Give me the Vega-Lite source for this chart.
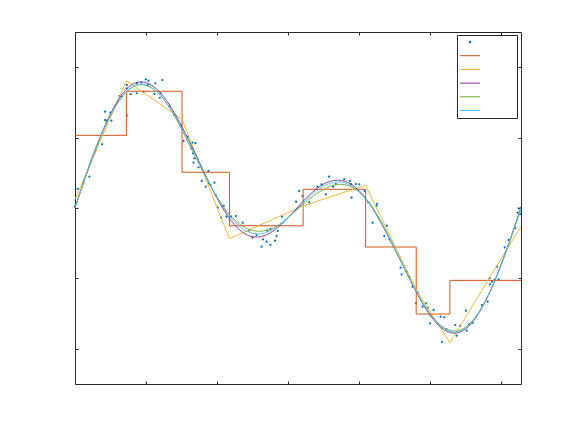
{
  "$schema": "https://vega.github.io/schema/vega-lite/v6.json",
  "width": 446,
  "height": 352,
  "autosize": "none",
  "padding": {"left": 75, "top": 32, "right": 55, "bottom": 48},
  "background": "white",
  "config": {
    "view": {"stroke": "#262626", "strokeWidth": 1},
    "axis": {"grid": false, "domain": false, "tickColor": "#262626", "tickSize": -3, "tickWidth": 1, "labelColor": "white", "labelFontSize": 10, "labelFont": "Liberation Sans", "labelPadding": 8, "title": null}
  },
  "datasets": {
    "pts": [
      {"x":0.000,"y":0.014},{"x":0.038,"y":0.135},{"x":0.118,"y":0.180},{"x":0.203,"y":0.222},{"x":0.290,"y":0.410},{"x":0.381,"y":0.452},
      {"x":0.423,"y":0.684},{"x":0.423,"y":0.625},{"x":0.443,"y":0.620},{"x":0.513,"y":0.620},{"x":0.499,"y":0.677},{"x":0.626,"y":0.795},
      {"x":0.658,"y":0.790},{"x":0.729,"y":0.874},{"x":0.729,"y":0.850},{"x":0.729,"y":0.656},{"x":0.785,"y":0.808},{"x":0.870,"y":0.886},
      {"x":0.870,"y":0.815},{"x":0.936,"y":0.890},{"x":0.964,"y":0.826},{"x":0.997,"y":0.914},{"x":1.035,"y":0.904},{"x":1.025,"y":0.874},
      {"x":1.133,"y":0.886},{"x":1.232,"y":0.909},{"x":1.119,"y":0.810},{"x":1.194,"y":0.783},{"x":1.204,"y":0.815},{"x":1.330,"y":0.720},
      {"x":1.400,"y":0.660},{"x":1.494,"y":0.589},{"x":1.528,"y":0.476},{"x":1.589,"y":0.506},{"x":1.655,"y":0.464},{"x":1.697,"y":0.460},
      {"x":1.641,"y":0.424},{"x":1.663,"y":0.388},{"x":1.683,"y":0.353},{"x":1.669,"y":0.322},{"x":1.740,"y":0.289},{"x":1.880,"y":0.263},
      {"x":1.786,"y":0.192},{"x":1.842,"y":0.151},{"x":1.889,"y":0.175},{"x":1.909,"y":0.163},{"x":1.965,"y":0.180},{"x":1.983,"y":0.092},
      {"x":2.012,"y":0.002},{"x":2.086,"y":0.014},{"x":2.058,"y":-0.069},{"x":2.096,"y":0.016},{"x":2.134,"y":-0.062},{"x":2.199,"y":-0.062},
      {"x":2.265,"y":-0.057},{"x":2.364,"y":-0.104},{"x":2.450,"y":-0.160},{"x":2.500,"y":-0.210},{"x":2.557,"y":-0.192},{"x":2.628,"y":-0.275},
      {"x":2.650,"y":-0.222},{"x":2.698,"y":-0.239},{"x":2.707,"y":-0.161},{"x":2.754,"y":-0.149},{"x":2.754,"y":-0.261},{"x":2.819,"y":-0.232},
      {"x":2.839,"y":-0.199},{"x":2.857,"y":-0.163},{"x":2.918,"y":-0.062},{"x":3.115,"y":0.045},{"x":3.158,"y":0.121},{"x":3.206,"y":0.085},
      {"x":3.299,"y":0.040},{"x":3.417,"y":0.151},{"x":3.473,"y":0.168},{"x":3.534,"y":0.097},{"x":3.580,"y":0.222},{"x":3.637,"y":0.151},
      {"x":3.675,"y":0.170},{"x":3.792,"y":0.204},{"x":3.872,"y":0.192},{"x":3.886,"y":0.170},{"x":3.896,"y":0.073},{"x":3.957,"y":0.170},
      {"x":4.003,"y":0.168},{"x":4.080,"y":0.120},{"x":4.130,"y":0.040},{"x":4.249,"y":0.016},{"x":4.192,"y":-0.104},{"x":4.253,"y":0.030},
      {"x":4.394,"y":-0.126},{"x":4.356,"y":-0.199},{"x":4.432,"y":-0.222},{"x":4.587,"y":-0.424},{"x":4.601,"y":-0.471},{"x":4.676,"y":-0.452},
      {"x":4.708,"y":-0.488},{"x":4.756,"y":-0.559},{"x":4.827,"y":-0.601},{"x":4.803,"y":-0.677},{"x":4.897,"y":-0.701},{"x":4.944,"y":-0.677},
      {"x":4.968,"y":-0.708},{"x":5.052,"y":-0.724},{"x":5.000,"y":-0.819},{"x":5.014,"y":-0.760},{"x":5.109,"y":-0.819},{"x":5.151,"y":-0.772},
      {"x":5.202,"y":-0.776},{"x":5.169,"y":-0.950},{"x":5.235,"y":-0.862},{"x":5.357,"y":-0.831},{"x":5.376,"y":-0.907},{"x":5.427,"y":-0.838},
      {"x":5.507,"y":-0.729},{"x":5.517,"y":-0.871},{"x":5.554,"y":-0.826},{"x":5.602,"y":-0.815},{"x":5.733,"y":-0.689},{"x":5.813,"y":-0.665},
      {"x":5.850,"y":-0.540},{"x":5.874,"y":-0.523},{"x":5.912,"y":-0.511},{"x":5.968,"y":-0.506},{"x":5.842,"y":-0.499},{"x":5.944,"y":-0.417},
      {"x":6.053,"y":-0.279},{"x":6.109,"y":-0.227},{"x":6.202,"y":-0.144},{"x":6.236,"y":-0.033},{"x":6.273,"y":-0.043},{"x":6.250,"y":-0.002}
    ],
    "step": [
      {"x":0,"y":0.516,"method":"binned"},{"x":0.7246,"y":0.829,"method":"binned"},{"x":1.508,"y":0.254,"method":"binned"},
      {"x":2.176,"y":-0.126,"method":"binned"},{"x":3.214,"y":0.133,"method":"binned"},{"x":4.094,"y":-0.277,"method":"binned"},
      {"x":4.807,"y":-0.753,"method":"binned"},{"x":5.282,"y":-0.514,"method":"binned"},{"x":6.2832,"y":-0.514,"method":"binned"}
    ],
    "lin": [
      {"x":0,"y":0.06,"method":"linear"},{"x":0.7246,"y":0.904,"method":"linear"},{"x":1.508,"y":0.63,"method":"linear"},
      {"x":2.176,"y":-0.218,"method":"linear"},{"x":3.214,"y":0.015,"method":"linear"},{"x":4.094,"y":0.161,"method":"linear"},
      {"x":4.807,"y":-0.58,"method":"linear"},{"x":5.282,"y":-0.957,"method":"linear"},{"x":6.2832,"y":-0.13,"method":"linear"}
    ],
    "curves": [
      {"x":0,"y":0,"method":"cubic"},{"x":0.2,"y":0.30,"method":"cubic"},{"x":0.4,"y":0.56,"method":"cubic"},{"x":0.6,"y":0.76,"method":"cubic"},
      {"x":0.8,"y":0.875,"method":"cubic"},{"x":1.0,"y":0.89,"method":"cubic"},{"x":1.2,"y":0.82,"method":"cubic"},{"x":1.4,"y":0.675,"method":"cubic"},
      {"x":1.6,"y":0.485,"method":"cubic"},{"x":1.8,"y":0.275,"method":"cubic"},{"x":2.0,"y":0.07,"method":"cubic"},{"x":2.2,"y":-0.09,"method":"cubic"},
      {"x":2.4,"y":-0.185,"method":"cubic"},{"x":2.6,"y":-0.205,"method":"cubic"},{"x":2.8,"y":-0.16,"method":"cubic"},{"x":3.0,"y":-0.07,"method":"cubic"},
      {"x":3.2,"y":0.04,"method":"cubic"},{"x":3.4,"y":0.135,"method":"cubic"},{"x":3.6,"y":0.19,"method":"cubic"},{"x":3.8,"y":0.19,"method":"cubic"},
      {"x":4.0,"y":0.125,"method":"cubic"},{"x":4.2,"y":-0.01,"method":"cubic"},{"x":4.4,"y":-0.19,"method":"cubic"},{"x":4.6,"y":-0.39,"method":"cubic"},
      {"x":4.8,"y":-0.59,"method":"cubic"},{"x":5.0,"y":-0.76,"method":"cubic"},{"x":5.2,"y":-0.865,"method":"cubic"},{"x":5.4,"y":-0.885,"method":"cubic"},
      {"x":5.6,"y":-0.81,"method":"cubic"},{"x":5.8,"y":-0.645,"method":"cubic"},{"x":6.0,"y":-0.405,"method":"cubic"},{"x":6.2,"y":-0.12,"method":"cubic"},
      {"x":6.2832,"y":0.01,"method":"cubic"},

      {"x":0,"y":0.01,"method":"quintic"},{"x":0.2,"y":0.29,"method":"quintic"},{"x":0.4,"y":0.55,"method":"quintic"},{"x":0.6,"y":0.745,"method":"quintic"},
      {"x":0.8,"y":0.855,"method":"quintic"},{"x":1.0,"y":0.87,"method":"quintic"},{"x":1.2,"y":0.80,"method":"quintic"},{"x":1.4,"y":0.655,"method":"quintic"},
      {"x":1.6,"y":0.46,"method":"quintic"},{"x":1.8,"y":0.26,"method":"quintic"},{"x":2.0,"y":0.08,"method":"quintic"},{"x":2.2,"y":-0.06,"method":"quintic"},
      {"x":2.4,"y":-0.14,"method":"quintic"},{"x":2.6,"y":-0.165,"method":"quintic"},{"x":2.8,"y":-0.14,"method":"quintic"},{"x":3.0,"y":-0.07,"method":"quintic"},
      {"x":3.2,"y":0.02,"method":"quintic"},{"x":3.4,"y":0.10,"method":"quintic"},{"x":3.6,"y":0.155,"method":"quintic"},{"x":3.8,"y":0.165,"method":"quintic"},
      {"x":4.0,"y":0.115,"method":"quintic"},{"x":4.2,"y":0.0,"method":"quintic"},{"x":4.4,"y":-0.18,"method":"quintic"},{"x":4.6,"y":-0.385,"method":"quintic"},
      {"x":4.8,"y":-0.585,"method":"quintic"},{"x":5.0,"y":-0.75,"method":"quintic"},{"x":5.2,"y":-0.85,"method":"quintic"},{"x":5.4,"y":-0.87,"method":"quintic"},
      {"x":5.6,"y":-0.80,"method":"quintic"},{"x":5.8,"y":-0.64,"method":"quintic"},{"x":6.0,"y":-0.41,"method":"quintic"},{"x":6.2,"y":-0.13,"method":"quintic"},
      {"x":6.2832,"y":-0.01,"method":"quintic"},

      {"x":0,"y":0,"method":"sine"},{"x":0.2,"y":0.294,"method":"sine"},{"x":0.4,"y":0.553,"method":"sine"},{"x":0.6,"y":0.748,"method":"sine"},
      {"x":0.8,"y":0.858,"method":"sine"},{"x":1.0,"y":0.875,"method":"sine"},{"x":1.2,"y":0.804,"method":"sine"},{"x":1.4,"y":0.660,"method":"sine"},
      {"x":1.6,"y":0.471,"method":"sine"},{"x":1.8,"y":0.266,"method":"sine"},{"x":2.0,"y":0.076,"method":"sine"},{"x":2.2,"y":-0.072,"method":"sine"},
      {"x":2.4,"y":-0.160,"method":"sine"},{"x":2.6,"y":-0.184,"method":"sine"},{"x":2.8,"y":-0.148,"method":"sine"},{"x":3.0,"y":-0.069,"method":"sine"},
      {"x":3.2,"y":0.029,"method":"sine"},{"x":3.4,"y":0.119,"method":"sine"},{"x":3.6,"y":0.176,"method":"sine"},{"x":3.8,"y":0.178,"method":"sine"},
      {"x":4.0,"y":0.116,"method":"sine"},{"x":4.2,"y":-0.008,"method":"sine"},{"x":4.4,"y":-0.183,"method":"sine"},{"x":4.6,"y":-0.385,"method":"sine"},
      {"x":4.8,"y":-0.585,"method":"sine"},{"x":5.0,"y":-0.751,"method":"sine"},{"x":5.2,"y":-0.856,"method":"sine"},{"x":5.4,"y":-0.877,"method":"sine"},
      {"x":5.6,"y":-0.806,"method":"sine"},{"x":5.8,"y":-0.644,"method":"sine"},{"x":6.0,"y":-0.408,"method":"sine"},{"x":6.2,"y":-0.124,"method":"sine"},
      {"x":6.2832,"y":0,"method":"sine"}
    ]
  },
  "encoding": {
    "color": {"field": "method", "type": "nominal",
      "scale": {"domain": ["data","binned","linear","cubic","quintic","sine"], "range": ["#0072BD","#D95319","#EDB120","#7E2F8E","#77AC30","#4DBEEE"]},
      "legend": {
        "title": null, "orient": "none", "legendX": 382, "legendY": 3,
        "strokeColor": "#262626", "fillColor": "white", "padding": 2,
        "symbolType": "stroke", "symbolSize": 100, "symbolOffset": 6, "rowPadding": 3.7,
        "labelColor": "white", "labelFontSize": 10, "labelFont": "Liberation Sans", "labelOffset": 9,
        "symbolStrokeWidth": 1,
        "encode": {"symbols": {"update": {
          "shape": {"signal": "datum.value === 'data' ? 'circle' : 'M-2,0H2'"},
          "size": {"signal": "datum.value === 'data' ? 6 : 100"},
          "fill": {"signal": "datum.value === 'data' ? '#0072BD' : 'transparent'"},
          "strokeWidth": {"signal": "datum.value === 'data' ? 0 : 1"},
          "opacity": {"value": 1}
        }}}
      }
    }
  },
  "layer": [
    {
      "data": {"name": "pts"},
      "transform": [{"calculate": "'data'", "as": "method"}],
      "mark": {"type": "point", "filled": true, "size": 5, "opacity": 1, "shape": "circle"},
      "encoding": {
        "x": {"field": "x", "type": "quantitative", "scale": {"domain": [0, 6.2832], "nice": false, "zero": false},
              "axis": {"orient": "bottom", "values": [0,1,2,3,4,5,6]}},
        "y": {"field": "y", "type": "quantitative", "scale": {"domain": [-1.25, 1.25], "nice": false, "zero": false},
              "axis": {"orient": "left", "values": [-1,-0.5,0,0.5,1]}}
      }
    },
    {
      "data": {"name": "step"},
      "mark": {"type": "line", "interpolate": "step-after", "strokeWidth": 1},
      "encoding": {
        "x": {"field": "x", "type": "quantitative", "axis": {"orient": "top", "values": [0,1,2,3,4,5,6], "labels": false}},
        "y": {"field": "y", "type": "quantitative", "axis": {"orient": "right", "values": [-1,-0.5,0,0.5,1], "labels": false}}
      }
    },
    {
      "data": {"name": "lin"},
      "mark": {"type": "line", "strokeWidth": 0.9},
      "encoding": {
        "x": {"field": "x", "type": "quantitative", "axis": null},
        "y": {"field": "y", "type": "quantitative", "axis": null}
      }
    },
    {
      "data": {"name": "curves"},
      "mark": {"type": "line", "strokeWidth": 0.9, "interpolate": "natural"},
      "encoding": {
        "x": {"field": "x", "type": "quantitative", "axis": null},
        "y": {"field": "y", "type": "quantitative", "axis": null}
      }
    }
  ],
  "resolve": {"axis": {"x": "independent", "y": "independent"}}
}
